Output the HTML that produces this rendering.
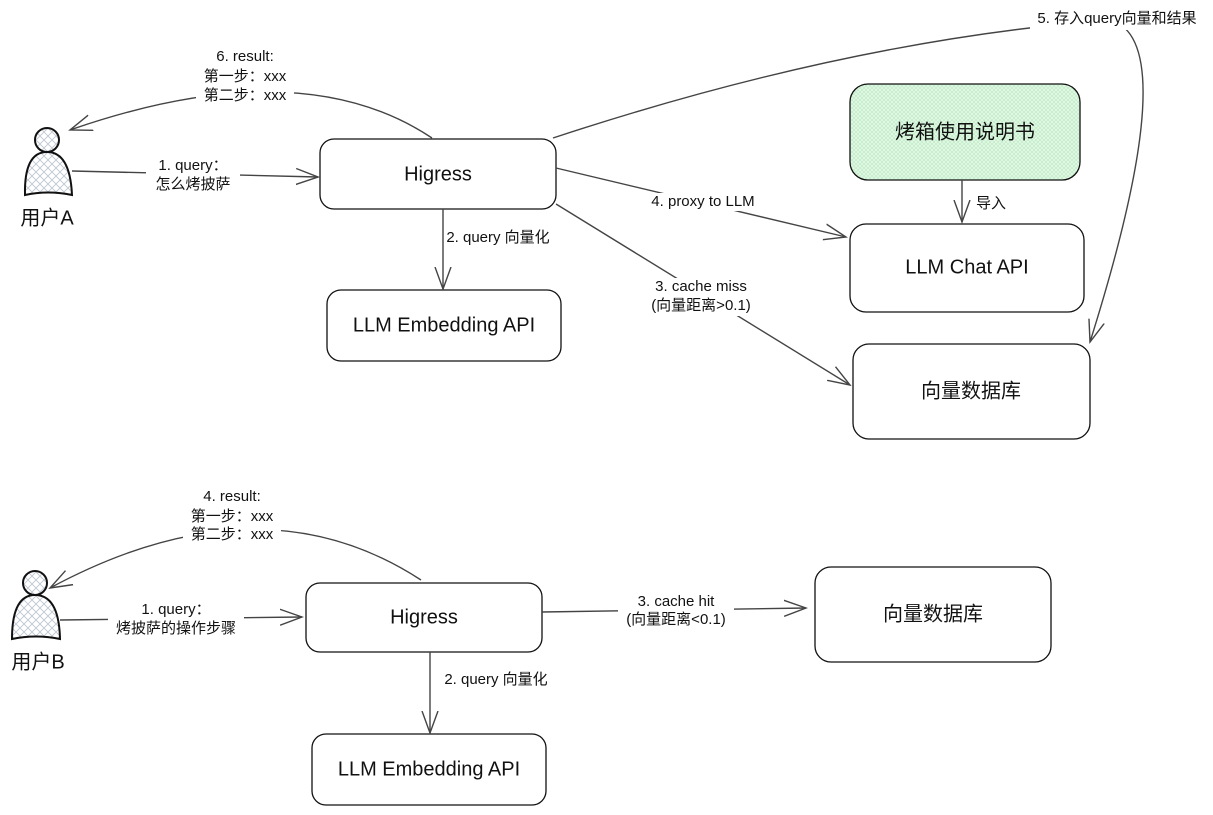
<!DOCTYPE html>
<html><head><meta charset="utf-8"><style>
html,body{margin:0;padding:0;background:#fff;}
svg{display:block;font-family:"Liberation Sans","Noto Sans CJK SC",sans-serif;}
.n{fill:#fff;stroke:#111;stroke-width:1.3;}
.e{fill:none;stroke:#444;stroke-width:1.4;}
.t{font-size:20px;fill:#111;text-anchor:middle;dominant-baseline:middle;}
.l{font-size:15px;fill:#111;text-anchor:middle;dominant-baseline:middle;}
.lb{fill:#fff;stroke:none;}
</style></head><body>
<svg width="1213" height="815" viewBox="0 0 1213 815">
<defs>
<pattern id="h" width="8" height="8" patternUnits="userSpaceOnUse">
<rect width="8" height="8" fill="#fff"/><path d="M0 0L8 8M8 0L0 8" stroke="#bcc4d0" stroke-width="0.8"/></pattern>
<pattern id="g" width="4" height="4" patternUnits="userSpaceOnUse">
<rect width="4" height="4" fill="#e4f7e6"/><path d="M0 0L4 4M4 0L0 4" stroke="#b6ebbf" stroke-width="0.6"/></pattern>
<marker id="m" markerWidth="24" markerHeight="18" refX="22" refY="9" orient="auto" markerUnits="userSpaceOnUse">
<path d="M0 1L22 9L0 17" fill="none" stroke="#444" stroke-width="1.4"/></marker>
</defs>

<rect class="n" x="320" y="139" width="236" height="70" rx="14"/>
<text class="t" x="438" y="175">Higress</text>
<rect class="n" x="327" y="290" width="234" height="71" rx="14"/>
<text class="t" x="444" y="326">LLM Embedding API</text>
<rect x="850" y="84" width="230" height="96" rx="18" fill="url(#g)" stroke="#111" stroke-width="1.3"/>
<text class="t" x="965" y="133">烤箱使用说明书</text>
<rect class="n" x="850" y="224" width="234" height="88" rx="16"/>
<text class="t" x="967" y="268">LLM Chat API</text>
<rect class="n" x="853" y="344" width="237" height="95" rx="16"/>
<text class="t" x="971" y="392">向量数据库</text>

<circle cx="47" cy="140" r="12" fill="url(#h)" stroke="#111" stroke-width="2"/>
<path d="M25 195 Q24 152 47 152 Q70 152 72 195 Q48 190 25 195Z" fill="url(#h)" stroke="#111" stroke-width="2"/>
<text class="t" x="47" y="219">用户A</text>

<path class="e" d="M72 171 L318 177" marker-end="url(#m)"/>
<rect class="lb" x="146" y="157" width="94" height="36"/>
<text class="l" x="193" y="166">1. query：</text>
<text class="l" x="193" y="185">怎么烤披萨</text>

<path class="e" d="M432 138 Q300 50 70 130" marker-end="url(#m)"/>
<rect class="lb" x="196" y="48" width="98" height="56"/>
<text class="l" x="245" y="57">6. result:</text>
<text class="l" x="245" y="77">第一步：xxx</text>
<text class="l" x="245" y="96">第二步：xxx</text>

<path class="e" d="M553 138 Q850 40 1110 20 Q1185 40 1090 342" marker-end="url(#m)"/>
<rect class="lb" x="1030" y="9" width="178" height="21"/>
<text class="l" x="1117" y="19">5. 存入query向量和结果</text>

<path class="e" d="M556 168 L846 237" marker-end="url(#m)"/>
<rect class="lb" x="644" y="193" width="118" height="18"/>
<text class="l" x="703" y="202">4. proxy to LLM</text>

<path class="e" d="M443 209 L443 289" marker-end="url(#m)"/>
<text class="l" x="498" y="238">2. query 向量化</text>

<path class="e" d="M556 204 L850 385" marker-end="url(#m)"/>
<rect class="lb" x="643" y="278" width="116" height="38"/>
<text class="l" x="701" y="287">3. cache miss</text>
<text class="l" x="701" y="306">(向量距离&gt;0.1)</text>

<path class="e" d="M962 180 L962 222" marker-end="url(#m)"/>
<text class="l" x="991" y="204">导入</text>

<rect class="n" x="306" y="583" width="236" height="69" rx="14"/>
<text class="t" x="424" y="618">Higress</text>
<rect class="n" x="312" y="734" width="234" height="71" rx="14"/>
<text class="t" x="429" y="770">LLM Embedding API</text>
<rect class="n" x="815" y="567" width="236" height="95" rx="16"/>
<text class="t" x="933" y="615">向量数据库</text>

<circle cx="35" cy="583" r="12" fill="url(#h)" stroke="#111" stroke-width="2"/>
<path d="M12 639 Q12 595 35 595 Q59 595 60 639 Q36 634 12 639Z" fill="url(#h)" stroke="#111" stroke-width="2"/>
<text class="t" x="38" y="663">用户B</text>

<path class="e" d="M421 580 Q260 475 50 588" marker-end="url(#m)"/>
<rect class="lb" x="183" y="488" width="98" height="56"/>
<text class="l" x="232" y="497">4. result:</text>
<text class="l" x="232" y="517">第一步：xxx</text>
<text class="l" x="232" y="535">第二步：xxx</text>

<path class="e" d="M60 620 L302 617" marker-end="url(#m)"/>
<rect class="lb" x="108" y="601" width="136" height="38"/>
<text class="l" x="176" y="610">1. query：</text>
<text class="l" x="176" y="629">烤披萨的操作步骤</text>

<path class="e" d="M430 652 L430 733" marker-end="url(#m)"/>
<text class="l" x="496" y="680">2. query 向量化</text>

<path class="e" d="M542 612 L806 608" marker-end="url(#m)"/>
<rect class="lb" x="618" y="593" width="116" height="38"/>
<text class="l" x="676" y="602">3. cache hit</text>
<text class="l" x="676" y="620">(向量距离&lt;0.1)</text>
</svg>
</body></html>
